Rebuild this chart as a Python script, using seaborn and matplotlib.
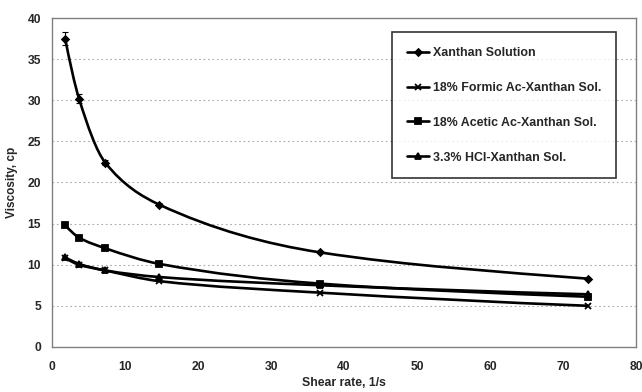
import numpy as np
import pandas as pd
import seaborn as sns
import matplotlib
matplotlib.use("Agg")
import matplotlib.pyplot as plt
from matplotlib.path import Path
from matplotlib.patches import PathPatch
from matplotlib.lines import Line2D

shear_rate = [1.8, 3.7, 7.3, 14.7, 36.7, 73.4]
xanthan = [37.5, 30.2, 22.4, 17.3, 11.5, 8.3]
formic = [10.8, 10.0, 9.3, 8.0, 6.6, 5.0]
acetic = [14.8, 13.3, 12.0, 10.1, 7.7, 6.1]
hcl = [10.9, 10.1, 9.3, 8.5, 7.5, 6.4]
xanthan_err = [0.8, 0.5, 0.3, 0.2, 0.1, 0.1]
series_names = ["Xanthan Solution", "18% Formic Ac-Xanthan Sol.",
                "18% Acetic Ac-Xanthan Sol.", "3.3% HCl-Xanthan Sol."]
series_values = [xanthan, formic, acetic, hcl]
markers = ["D", "x", "s", "^"]
msizes = [3.5, 5, 5, 5]

sns.set_theme(style="white")
plt.rcParams['font.family'] = ['Liberation Sans', 'DejaVu Sans']

fig = plt.figure(figsize=(6.42, 3.92), dpi=100)
ax = fig.add_axes([0.081, 0.115, 0.91, 0.839])

rows = []
for name, vals in zip(series_names, series_values):
    for x, y in zip(shear_rate, vals):
        rows.append({"Shear rate": x, "Viscosity": y, "Series": name})
df = pd.DataFrame(rows)


def slopes(x, y):
    x = np.asarray(x, float); y = np.asarray(y, float)
    h = np.diff(x); d = np.diff(y) / h
    n = len(x); m = np.zeros(n)
    for k in range(1, n - 1):
        if d[k - 1] * d[k] <= 0:
            m[k] = 0
        else:
            w1 = 2 * h[k] + h[k - 1]; w2 = h[k] + 2 * h[k - 1]
            m[k] = (w1 + w2) / (w1 / d[k - 1] + w2 / d[k])
    m[0] = ((2 * h[0] + h[1]) * d[0] - h[0] * d[1]) / (h[0] + h[1])
    if m[0] * d[0] <= 0:
        m[0] = 0
    m[-1] = d[-1] * 0.8
    return m


def smooth_path(xs, ys):
    xs = np.asarray(xs, float); ys = np.asarray(ys, float)
    m = slopes(xs, ys)
    verts = [(xs[0], ys[0])]
    codes = [Path.MOVETO]
    for i in range(len(xs) - 1):
        h = xs[i + 1] - xs[i]
        verts += [(xs[i] + h / 3, ys[i] + m[i] * h / 3),
                  (xs[i + 1] - h / 3, ys[i + 1] - m[i + 1] * h / 3),
                  (xs[i + 1], ys[i + 1])]
        codes += [Path.CURVE4] * 3
    return Path(verts, codes)


for name, vals, mk, ms in zip(series_names, series_values, markers, msizes):
    ax.add_patch(PathPatch(smooth_path(shear_rate, vals), facecolor="none",
                           edgecolor="black", lw=1.9, zorder=2))
    sub = df[df["Series"] == name]
    sns.lineplot(data=sub, x="Shear rate", y="Viscosity", ax=ax, color="black",
                 linestyle="none", marker=mk, markersize=ms, markeredgewidth=1.3,
                 markeredgecolor="black", legend=False, zorder=3)

ax.errorbar(shear_rate, xanthan, yerr=xanthan_err, fmt="none", ecolor="black",
            elinewidth=0.8, capsize=2.5, capthick=0.8, zorder=3)

handles = [Line2D([0], [0], color="black", lw=1.9, marker=mk, markersize=ms,
                  markeredgewidth=1.3) for mk, ms in zip(markers, msizes)]
leg = ax.legend(handles, series_names, loc="upper right",
                bbox_to_anchor=(0.966, 0.957), frameon=True, fancybox=False,
                edgecolor="black", handlelength=1.8, handletextpad=0.3,
                labelspacing=1.85, borderpad=1.2, borderaxespad=0,
                prop={"weight": "bold", "size": 8.9})
leg.get_frame().set_linewidth(1.2)

ax.set_xlim(0, 80)
ax.set_ylim(0, 40)
ax.set_xticks(range(0, 81, 10))
ax.set_yticks(range(0, 41, 5))
ax.yaxis.grid(True, linestyle=(0, (1.5, 2.5)), color="#aaaaaa", lw=0.8)
ax.xaxis.grid(False)
for s in ax.spines.values():
    s.set_color("#808080")
    s.set_linewidth(1.0)
ax.tick_params(axis="both", direction="out", length=3, width=0.8, color="#808080",
               labelsize=8.7)
ax.tick_params(axis="x", pad=7)
ax.tick_params(axis="y", pad=5)
for lab in ax.get_xticklabels() + ax.get_yticklabels():
    lab.set_fontweight("bold")
ax.set_xlabel("Shear rate, 1/s", fontweight="bold", fontsize=8.8, labelpad=3)
ax.set_ylabel("Viscosity, cp", fontweight="bold", fontsize=8.5, labelpad=7)

fig.savefig("out.png", dpi=100)
